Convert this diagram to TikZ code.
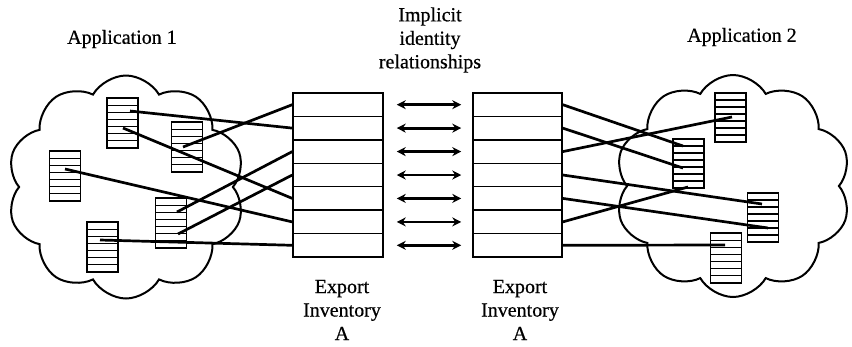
\documentclass[tikz,border=0pt]{standalone}
\usepackage{fontspec}
\setmainfont{Liberation Serif}
\newfontfamily\lblfont[FakeBold=0.6]{Liberation Serif}
\usetikzlibrary{shapes.symbols,arrows.meta,calc}
\tikzset{
  lbl/.style={align=center,inner sep=0pt,font=\lblfont\fontsize{20}{23.5}\selectfont},
  cloudbox/.style={cloud,cloud puffs=10,cloud puff arc=120,cloud ignores aspect,draw,line width=2pt,inner sep=0pt},
  tbl/.style={draw,fill=white,line width=1.6pt,minimum width=31pt,minimum height=50pt,inner sep=0pt,
    path picture={\foreach \i in {1,...,6}{\draw[line width=1.2pt]
      ($(path picture bounding box.north west)!\i/7!(path picture bounding box.south west)$) --
      ($(path picture bounding box.north east)!\i/7!(path picture bounding box.south east)$);}}},
  rowbox/.style={draw,line width=1.5pt,minimum height=23.43pt,inner sep=0pt},
  conn/.style={line width=2.7pt},
  idarrow/.style={line width=2.8pt,{Stealth[length=9pt,width=9pt]}-{Stealth[length=9pt,width=9pt]},shorten <=13pt,shorten >=11pt}
}
\begin{document}
\begin{tikzpicture}[x=1pt,y=-1pt]
\useasboundingbox (0,0) rectangle (852,346);
% clouds
\node[cloudbox,minimum width=238pt,minimum height=223pt] (c1) at (126,187) {};
\node[cloudbox,minimum width=236pt,minimum height=222pt] (c2) at (733,186) {};
% labels
\node[lbl] (app1) at (122,39) {Application 1};
\node[lbl] (app2) at (742,37) {Application 2};
\node[lbl] (impl) at (430,40) {Implicit\\identity\\relationships};
\node[lbl] (expL) at (342,310) {Export\\Inventory\\A};
\node[lbl] (expR) at (520,310) {Export\\Inventory\\A};
% export inventories
\foreach \i/\y in {1/104.7,2/128.1,3/151.6,4/175.0,5/198.4,6/221.9,7/245.3}{
  \node[rowbox,minimum width=90pt] (L\i) at (338,\y) {};
  \node[rowbox,minimum width=89pt] (R\i) at (517.5,\y) {};
  \draw[idarrow] (L\i.east) -- (R\i.west);
}
% tables application 1
\node[tbl] (t1) at (122.5,123) {};
\node[tbl] (t2) at (187,147) {};
\node[tbl] (t3) at (65,176) {};
\node[tbl] (t4) at (171,223) {};
\node[tbl] (t5) at (102.5,247) {};
% tables application 2
\node[tbl,minimum height=49pt] (r1) at (730.5,117.5) {};
\node[tbl,minimum height=49pt] (r2) at (688.5,163.5) {};
\node[tbl,minimum height=49pt] (r3) at (763,217.5) {};
\node[tbl,minimum height=50pt] (r4) at (726,258) {};
% connector ends inside tables
\coordinate (a1) at (183,147);
\coordinate (a2) at (130,111);
\coordinate (a3) at (177,212);
\coordinate (a4) at (178,234);
\coordinate (a5) at (123,128);
\coordinate (a6) at (65,169);
\coordinate (a7) at (100,240);
\coordinate (b1) at (683,146);
\coordinate (b2) at (683,168);
\coordinate (b3) at (732,117);
\coordinate (b4) at (762,204);
\coordinate (b5) at (768,228);
\coordinate (b6) at (688,187);
\coordinate (b7) at (725,245);
\foreach \i in {1,...,7}{
  \draw[conn] (a\i) -- (L\i.west);
  \draw[conn] (R\i.east) -- (b\i);
}
\end{tikzpicture}
\end{document}
